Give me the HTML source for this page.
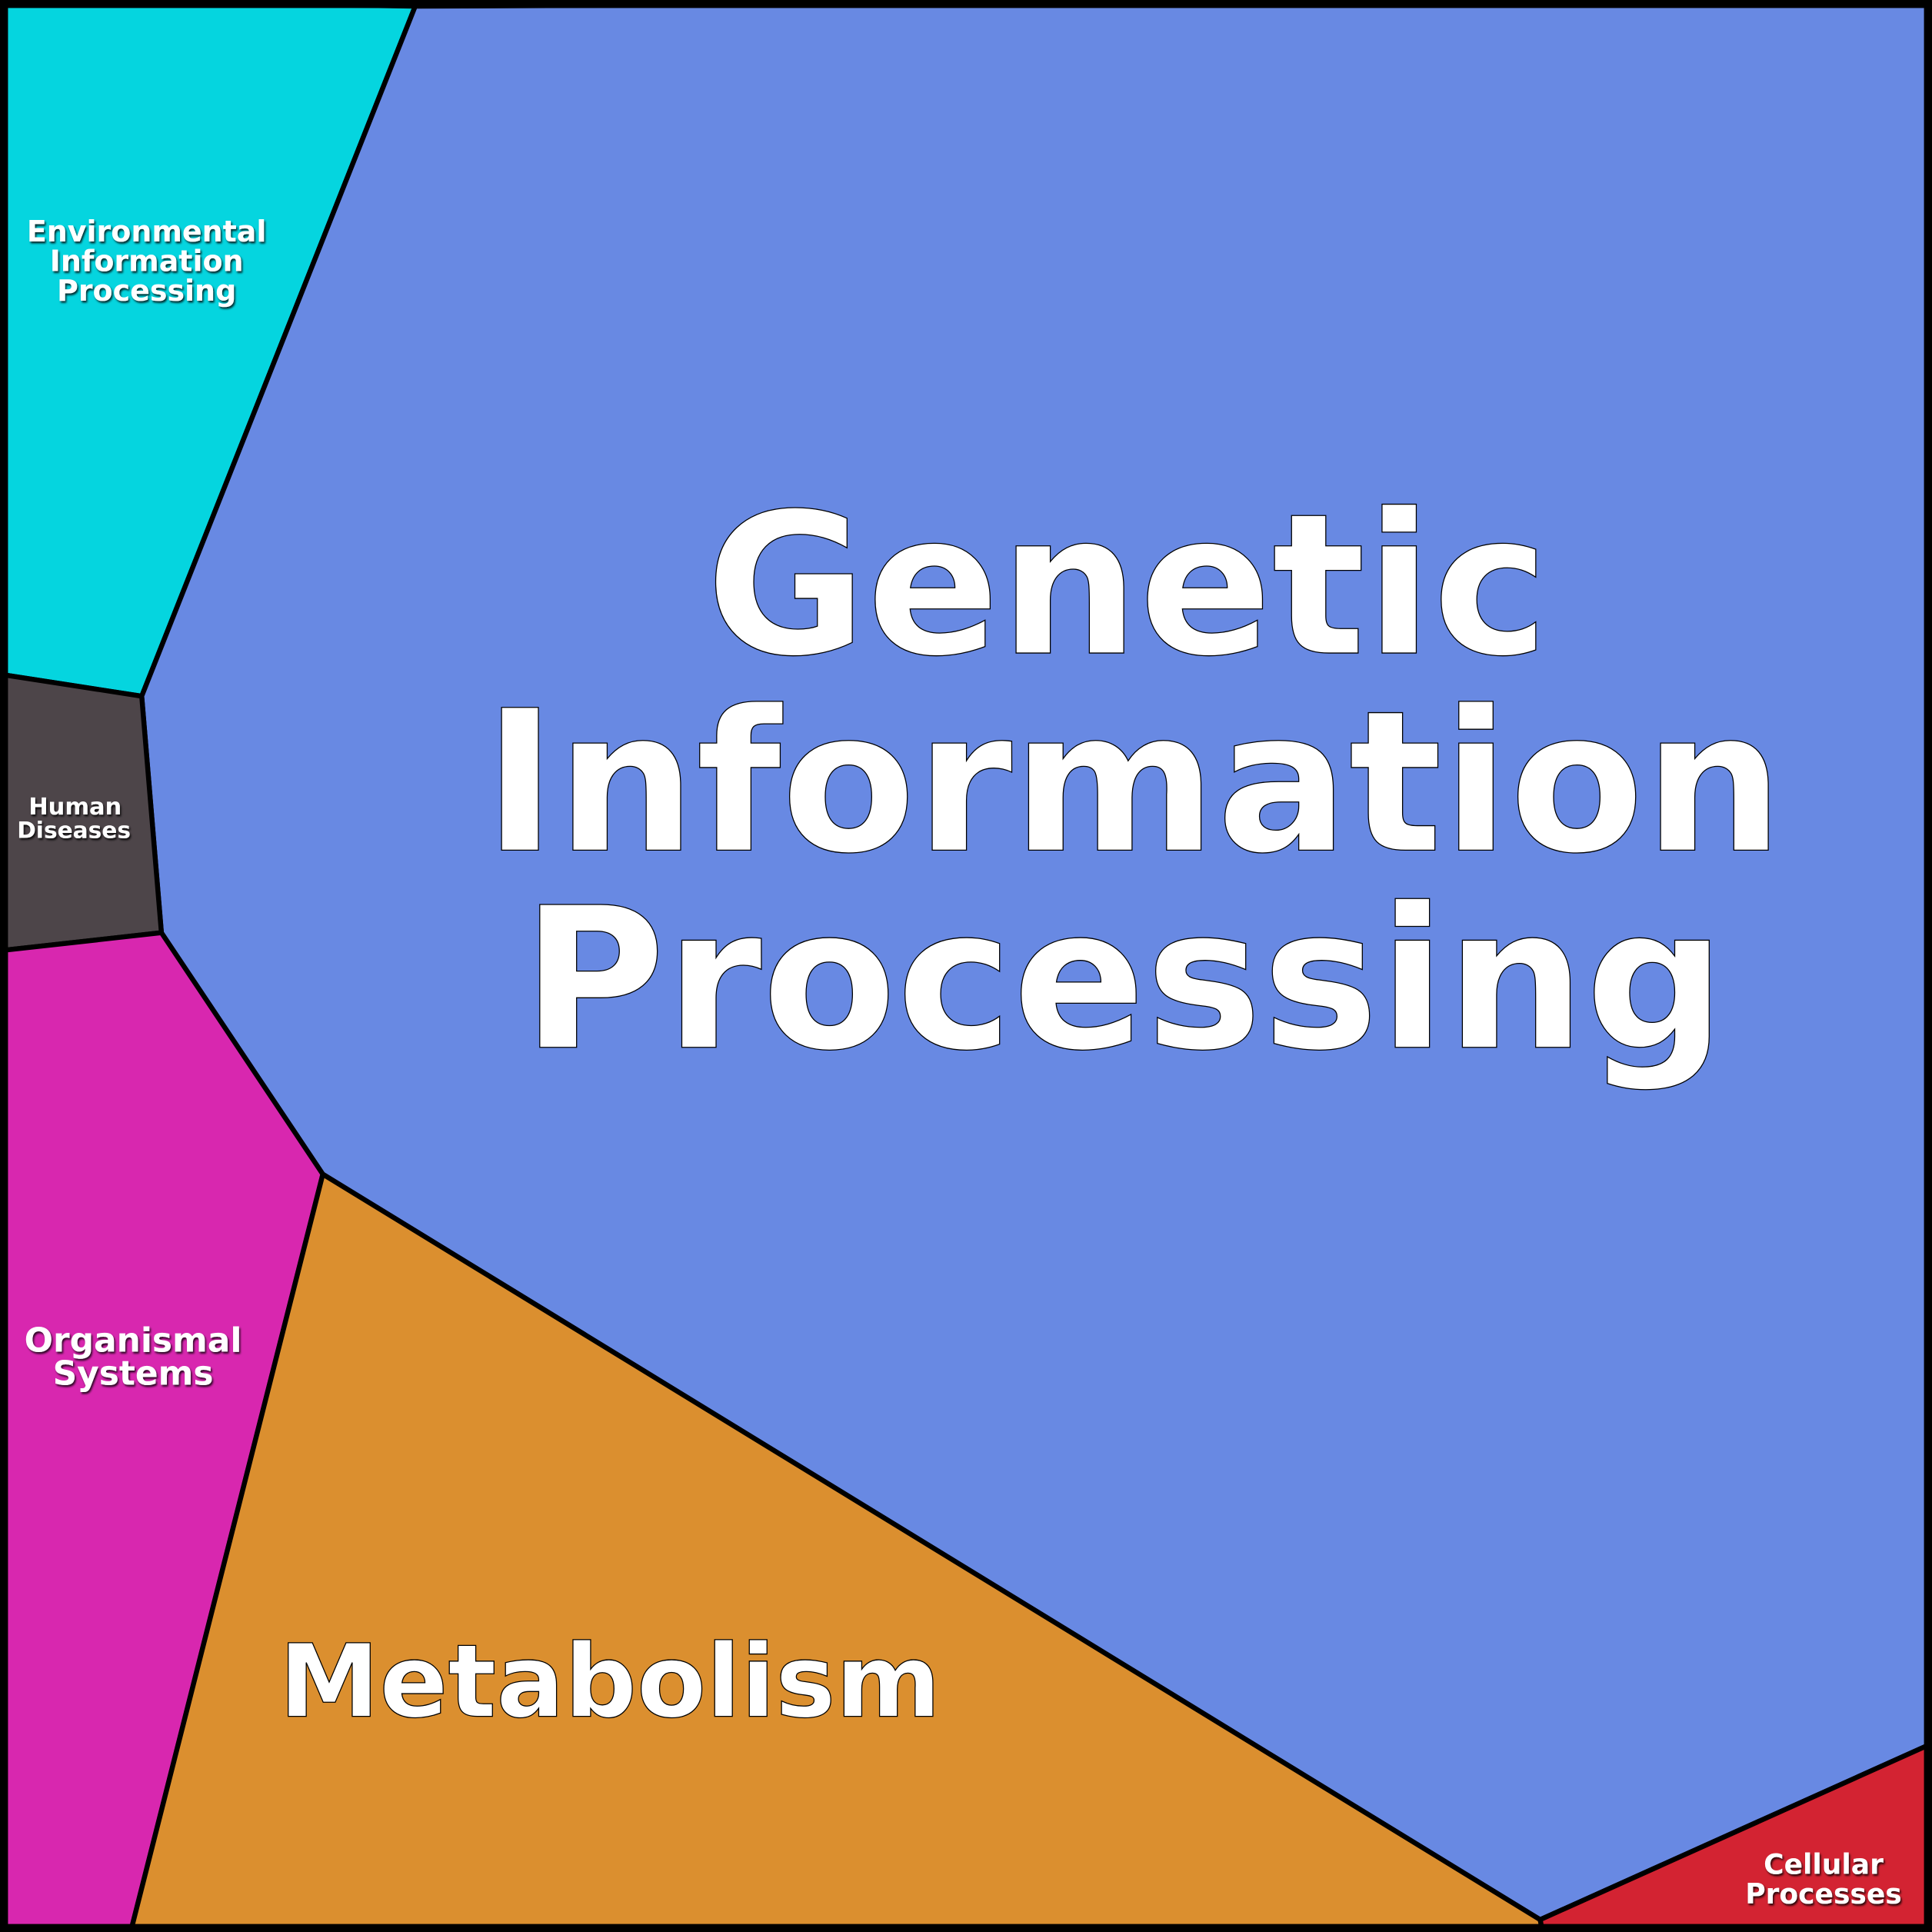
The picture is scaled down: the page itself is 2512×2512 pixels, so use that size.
<!DOCTYPE html>
<html><head><meta charset="utf-8"><style>html,body{margin:0;padding:0;background:#fff}svg{display:block}</style></head>
<body>
<svg width="2512" height="2512" viewBox="0 0 1568 1568" xmlns="http://www.w3.org/2000/svg">
<defs><filter id="sh" x="-20%" y="-20%" width="140%" height="140%"><feDropShadow dx="1" dy="1.5" stdDeviation="0.8" flood-color="#000" flood-opacity="0.8"/></filter></defs>
<g stroke="#000" stroke-width="4" stroke-linejoin="round">
<polygon points="0,0 337,5 115,565 5,548 0,548" fill="#05D5DF"/>
<polygon points="337,5 1568,0 1568,1415 1250,1558 262,953 131,757 115,565" fill="#6889E3"/>
<polygon points="0,548 5,548 115,565 131,757 5,771 0,771" fill="#4D4549"/>
<polygon points="0,771 5,771 131,757 262,953 106,1568 0,1568" fill="#D827AF"/>
<polygon points="262,953 1250,1558 1252,1568 106,1568" fill="#DB8F2F"/>
<polygon points="1250,1558 1568,1415 1568,1568 1252,1568" fill="#D32332"/>
</g>
<rect x="3" y="3" width="1562" height="1562" fill="none" stroke="#000" stroke-width="7"/>
<g font-family="'DejaVu Sans','Liberation Sans',sans-serif" font-weight="bold" fill="#fff" text-anchor="middle">
<g stroke="#000" stroke-width="0.8">
<text x="915" y="530" font-size="159">Genetic</text>
<text x="920" y="690" font-size="159">Information</text>
<text x="912" y="850" font-size="159">Processing</text>
<text x="495" y="1393" font-size="82">Metabolism</text>
</g>
<g filter="url(#sh)">
<text x="119" y="196" font-size="23.7">Environmental</text>
<text x="119" y="220" font-size="23.7">Information</text>
<text x="119" y="244" font-size="23.7">Processing</text>
<text x="61" y="661" font-size="19">Human</text>
<text x="60" y="680" font-size="18.5">Diseases</text>
<text x="108" y="1097" font-size="27.4">Organismal</text>
<text x="108" y="1124" font-size="27.4">Systems</text>
<text x="1480" y="1521" font-size="22.5">Cellular</text>
<text x="1480" y="1545" font-size="22.5">Processes</text>
</g>
</g>
</svg>
</body></html>
